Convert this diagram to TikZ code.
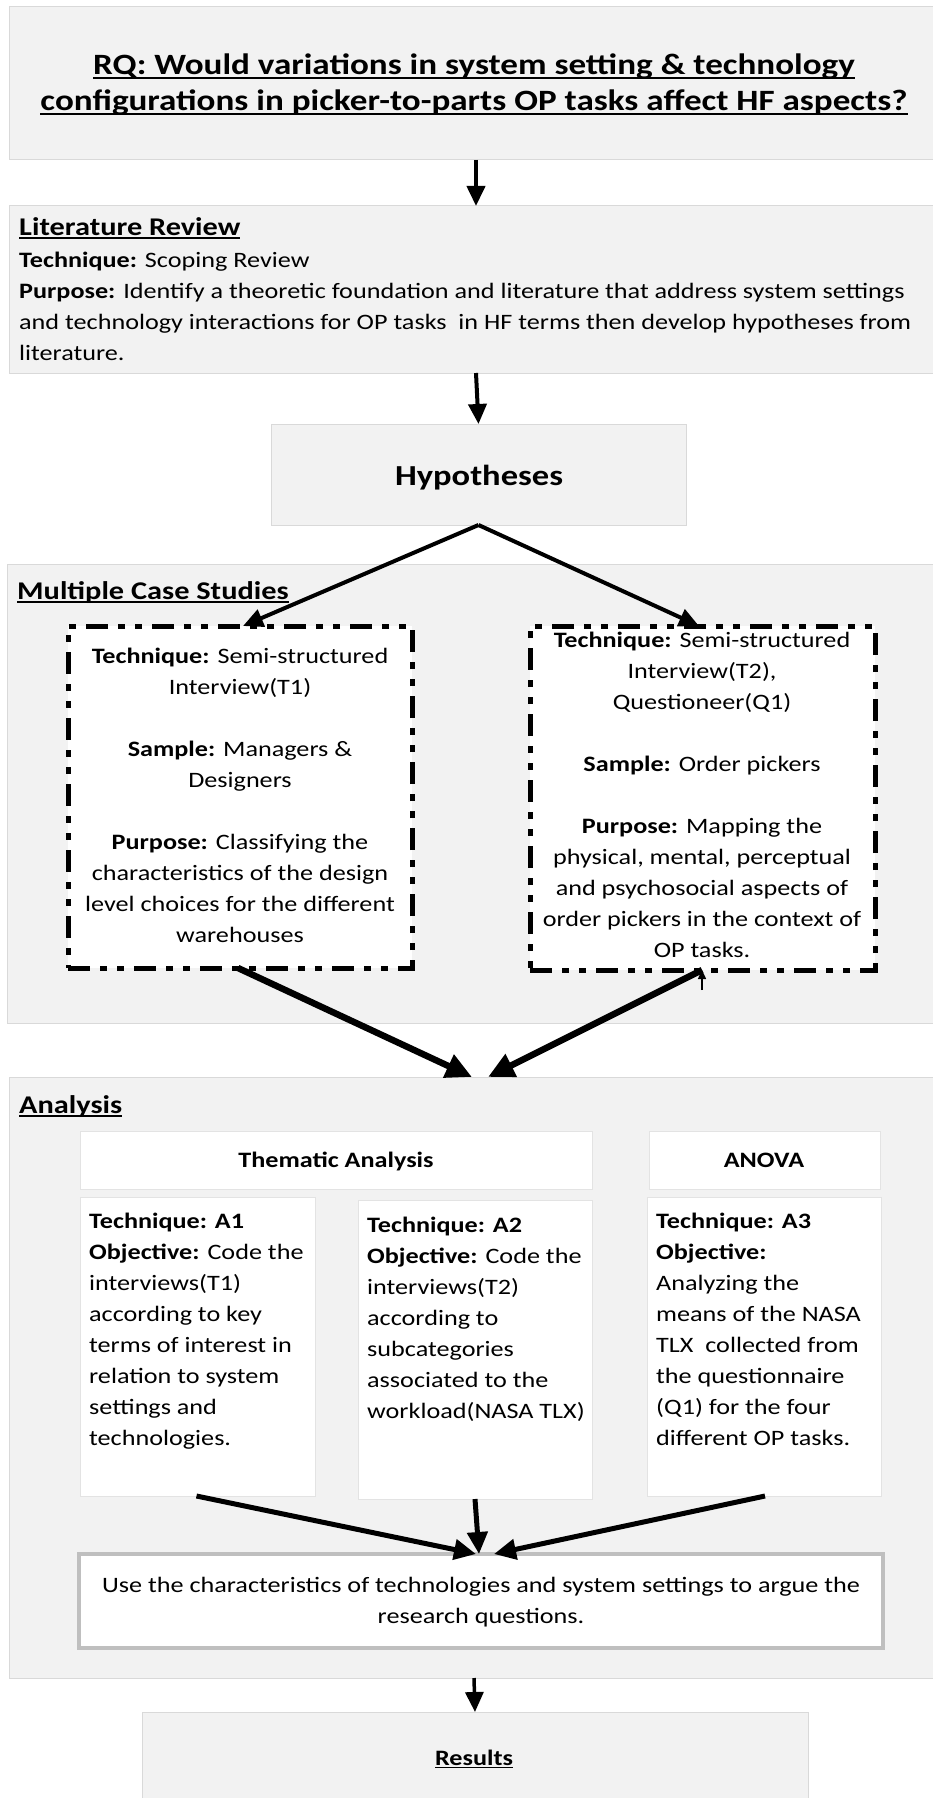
\documentclass[tikz,border=0pt]{standalone}
\usepackage{fontspec}
\setmainfont{Carlito}[FakeStretch=1.19]
\newsavebox\myulbox
\newcommand{\myul}[1]{\sbox\myulbox{#1}\rlap{\rule[-0.15em]{\wd\myulbox}{0.065em}}\usebox\myulbox}
\usetikzlibrary{arrows.meta}
\definecolor{boxfill}{HTML}{F2F2F2}
\definecolor{boxline}{HTML}{D9D9D9}
\definecolor{conline}{HTML}{BFBFBF}
\definecolor{wline}{HTML}{E3E3E3}
\tikzset{
  graybox/.style={draw=boxline, line width=1pt, fill=boxfill, inner sep=0pt, outer sep=0pt, anchor=north west},
  whitebox/.style={draw=wline, line width=1pt, fill=white, inner sep=0pt, outer sep=0pt, anchor=north west},
  dashbox/.style={draw=black, line width=5pt, fill=white, dash pattern=on 22pt off 10pt on 7pt off 10pt on 7pt off 10pt, inner sep=0pt, outer sep=0pt, anchor=north west},
  conbox/.style={draw=conline, line width=4pt, fill=white, inner sep=0pt, outer sep=0pt, anchor=north west},
  body/.style={inner sep=0pt, font=\fontsize{22}{31}\selectfont},
  sechead/.style={inner sep=0pt, font=\fontsize{25.5}{30}\selectfont\bfseries, anchor=base west},
  arr/.style={-{Triangle[length=20pt,width=18pt]}, line width=4pt},
  arrthick/.style={-{Triangle[length=26pt,width=24pt]}, line width=6.5pt},
  arrmid/.style={-{Triangle[length=22pt,width=20pt]}, line width=5pt},
  arrtiny/.style={-{Triangle[length=9pt,width=8pt]}, line width=1.5pt},
}
\begin{document}
\begin{tikzpicture}[x=1pt,y=-1pt]
\useasboundingbox (0,0) rectangle (933,1798);
\fill[white] (0,0) rectangle (933,1798);

% ---- boxes
\node[graybox, minimum width=924pt, minimum height=153pt] (rq) at (9,7) {};
\node[graybox, minimum width=924pt, minimum height=167pt] (lit) at (9,206) {};
\node[graybox, minimum width=415pt, minimum height=101pt] (hyp) at (271,424) {};
\node[graybox, minimum width=926pt, minimum height=459pt] (mcs) at (7,564) {};
\node[dashbox, minimum width=344pt, minimum height=342pt] (cs1) at (68,626) {};
\node[dashbox, minimum width=345pt, minimum height=344pt] (cs2) at (530,626) {};
\node[graybox, minimum width=924pt, minimum height=601pt] (ana) at (9,1077) {};
\node[whitebox, minimum width=512pt, minimum height=58pt] (them) at (80,1131) {};
\node[whitebox, minimum width=231pt, minimum height=58pt] (anova) at (649,1131) {};
\node[whitebox, minimum width=235pt, minimum height=299pt] (a1) at (80,1197) {};
\node[whitebox, minimum width=234pt, minimum height=299pt] (a2) at (358,1200) {};
\node[whitebox, minimum width=234pt, minimum height=299pt] (a3) at (647,1197) {};
\node[conbox, minimum width=804pt, minimum height=94pt] (concl) at (79,1554) {};
\node[graybox, minimum width=666pt, minimum height=95pt] (res) at (142,1712) {};

% ---- texts
\node[inner sep=0pt, font=\fontsize{29.5}{36}\selectfont\bfseries, align=center, anchor=north] (rqtext) at (474,51)
  {\rule{0pt}{23pt}\myul{RQ: Would variations in system setting \& technology}\\
   \myul{configurations in picker-to-parts OP tasks affect HF aspects?}};

\node[sechead] (lithead) at (19,235) {\myul{Literature Review}};
\node[body, align=left, anchor=north west] (littext) at (19,249)
  {\rule{0pt}{18pt}\textbf{Technique:} Scoping Review\\
   \textbf{Purpose:} Identify a theoretic foundation and literature that address system settings\\
   and technology interactions for OP tasks\ \ in HF terms then develop hypotheses from\\
   literature.};

\node[inner sep=0pt, font=\fontsize{29}{36}\selectfont\bfseries, anchor=base] (hyptext) at (479,485) {Hypotheses};

\node[sechead] (mcshead) at (17,599) {\myul{Multiple Case Studies}};
\node[body, align=center, anchor=north] (cs1text) at (240,645)
  {\rule{0pt}{18pt}\textbf{Technique:} Semi-structured\\
   Interview(T1)\\[31pt]
   \textbf{Sample:} Managers \&\\
   Designers\\[31pt]
   \textbf{Purpose:} Classifying the\\
   characteristics of the design\\
   level choices for the different\\
   warehouses};
\node[body, align=center, anchor=north] (cs2text) at (702,629)
  {\rule{0pt}{18pt}\textbf{Technique:} Semi-structured\\
   Interview(T2),\\
   Questioneer(Q1)\\[31pt]
   \textbf{Sample:} Order pickers\\[31pt]
   \textbf{Purpose:} Mapping the\\
   physical, mental, perceptual\\
   and psychosocial aspects of\\
   order pickers in the context of\\
   OP tasks.};

\node[sechead] (anahead) at (19,1113) {\myul{Analysis}};
\node[inner sep=0pt, font=\fontsize{22}{31}\selectfont\bfseries, anchor=base] (themtext) at (336,1167) {Thematic Analysis};
\node[inner sep=0pt, font=\fontsize{22}{31}\selectfont\bfseries, anchor=base] (anovatext) at (764,1167) {ANOVA};
\node[body, align=left, anchor=north west] (a1text) at (89,1210)
  {\rule{0pt}{18pt}\textbf{Technique: A1}\\
   \textbf{Objective:} Code the\\
   interviews(T1)\\
   according to key\\
   terms of interest in\\
   relation to system\\
   settings and\\
   technologies.};
\node[body, align=left, anchor=north west] (a2text) at (367,1214)
  {\rule{0pt}{18pt}\textbf{Technique: A2}\\
   \textbf{Objective:} Code the\\
   interviews(T2)\\
   according to\\
   subcategories\\
   associated to the\\
   workload(NASA TLX)};
\node[body, align=left, anchor=north west] (a3text) at (656,1210)
  {\rule{0pt}{18pt}\textbf{Technique: A3}\\
   \textbf{Objective:}\\
   Analyzing the\\
   means of the NASA\\
   TLX\ \ collected from\\
   the questionnaire\\
   (Q1) for the four\\
   different OP tasks.};
\node[body, align=center, anchor=north] (concltext) at (481,1574)
  {\rule{0pt}{18pt}Use the characteristics of technologies and system settings to argue the\\
   research questions.};
\node[inner sep=0pt, font=\fontsize{22}{31}\selectfont\bfseries, anchor=base] (restext) at (474,1765) {\myul{Results}};

% ---- connectors
\coordinate (tick) at (702,990);
\draw[arr] ([xshift=5pt]rq.south) -- ([xshift=5pt]lit.north);
\draw[arr] ([xshift=5pt]lit.south) -- (hyp.north);
\draw[arr] (hyp.south) -- ([xshift=3pt]cs1.north);
\draw[arr] (hyp.south) -- ([xshift=-3.5pt]cs2.north);
\draw[arrthick] ([xshift=-2pt]cs1.south) -- ([xshift=1pt]ana.north);
\draw[arrthick] ([xshift=-0.5pt]cs2.south) -- ([xshift=17pt]ana.north);
\draw[arrtiny] (tick) -- ([xshift=-0.5pt]cs2.south);
\draw[arrmid] ([xshift=-1pt]a1.south) -- ([xshift=-5pt]concl.north);
\draw[arrmid] (a2.south) -- ([xshift=-2pt]concl.north);
\draw[arrmid] ([xshift=1pt]a3.south) -- ([xshift=13pt]concl.north);
\draw[arr, line width=3.5pt] ([xshift=3pt]ana.south) -- (res.north);
\end{tikzpicture}
\end{document}
